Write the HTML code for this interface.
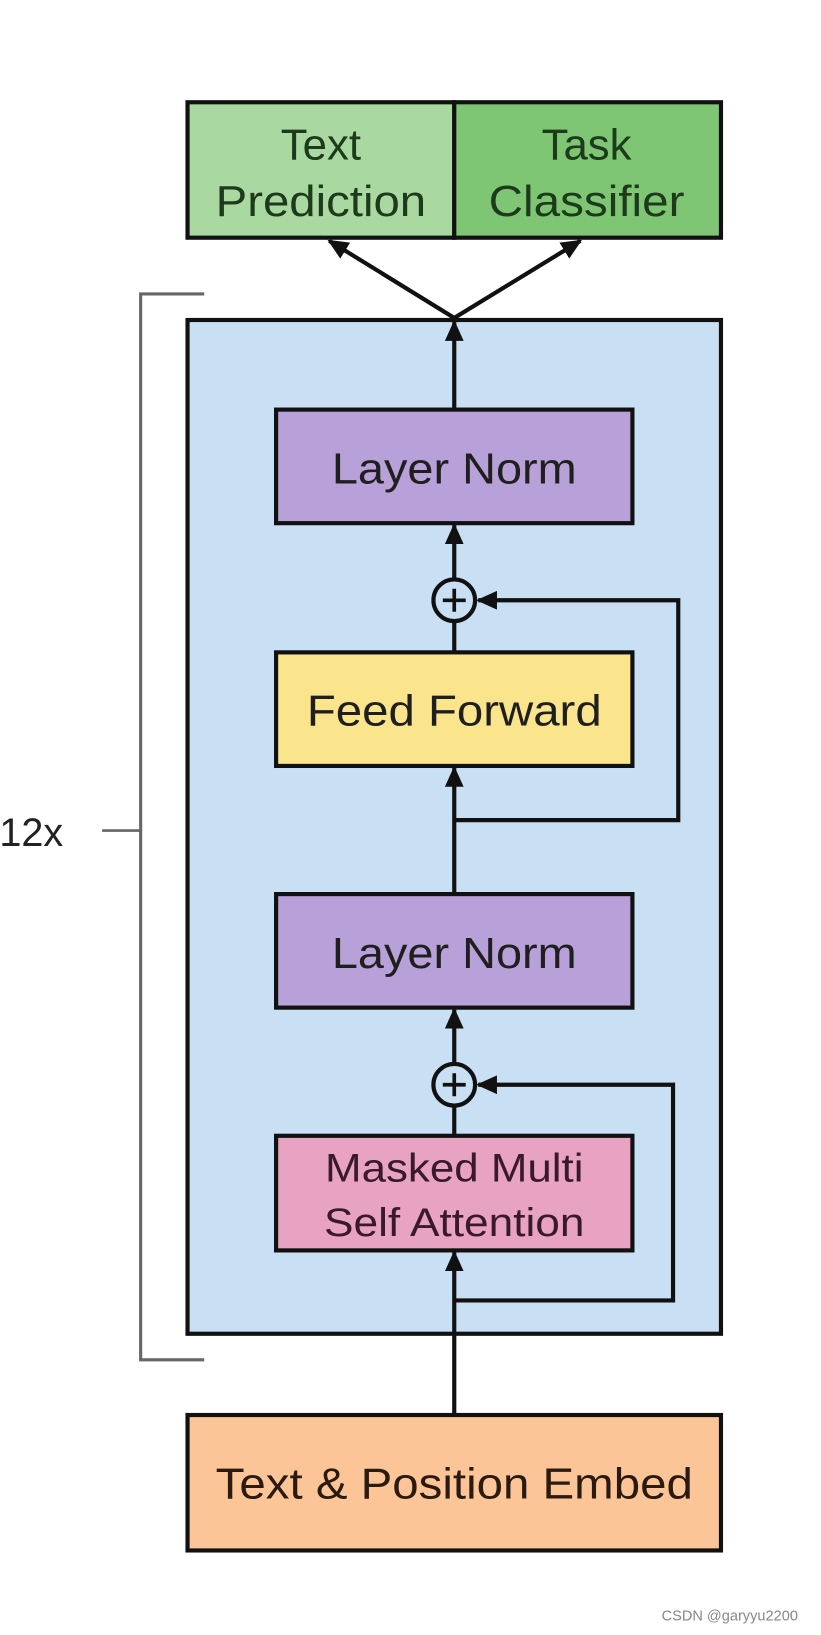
<!DOCTYPE html>
<html><head><meta charset="utf-8"><style>html,body{margin:0;padding:0;background:#fff}svg{display:block}</style></head>
<body>
<svg width="821" height="1635" viewBox="0 0 788 1569" xmlns="http://www.w3.org/2000/svg" font-family="Liberation Sans, sans-serif">
<defs>
<marker id="a" markerWidth="20" markerHeight="18" refX="18" refY="9" orient="auto" markerUnits="userSpaceOnUse" viewBox="0 0 20 18"><path d="M0,0 L20,9 L0,18 z" fill="#111"/></marker>
</defs>
<g stroke="#111" stroke-width="4">
<rect x="180" y="98" width="256" height="130" fill="#a9d9a0"/>
<rect x="436" y="98" width="256" height="130" fill="#7ec673"/>
<polyline points="196,282 135,282 135,1305 196,1305" fill="none" stroke="#666" stroke-width="3"/>
<line x1="98" y1="797" x2="135" y2="797" stroke="#666" stroke-width="2.5"/>
<rect x="180" y="307" width="512" height="973" fill="#c9dff3"/>
<rect x="265" y="393" width="342" height="109" fill="#b8a0d8"/>
<rect x="265" y="626" width="342" height="109" fill="#fbe58c"/>
<rect x="265" y="858" width="342" height="109" fill="#b8a0d8"/>
<rect x="265" y="1090" width="342" height="110" fill="#e8a2c2"/>
<rect x="180" y="1358" width="512" height="130" fill="#fcc598"/>
<g fill="none">
<line x1="436" y1="305" x2="316" y2="231" marker-end="url(#a)"/>
<line x1="436" y1="305" x2="557" y2="231" marker-end="url(#a)"/>
<line x1="436" y1="393" x2="436" y2="309" marker-end="url(#a)"/>
<line x1="436" y1="556" x2="436" y2="504" marker-end="url(#a)"/>
<line x1="436" y1="626" x2="436" y2="597"/>
<line x1="436" y1="858" x2="436" y2="737" marker-end="url(#a)"/>
<polyline points="436,787 651,787 651,576 459,576" marker-end="url(#a)"/>
<line x1="436" y1="1020" x2="436" y2="969" marker-end="url(#a)"/>
<line x1="436" y1="1090" x2="436" y2="1061"/>
<line x1="436" y1="1358" x2="436" y2="1202" marker-end="url(#a)"/>
<polyline points="436,1248 646,1248 646,1041 459,1041" marker-end="url(#a)"/>
<circle cx="436" cy="576" r="20" fill="#c9dff3"/>
<circle cx="436" cy="1041" r="20" fill="#c9dff3"/>
<path d="M425,576 H447 M436,565 V587 M425,1041 H447 M436,1030 V1052" stroke-width="3.5"/>
</g>
</g>
<g fill="#1f1f1f" text-anchor="middle" font-size="42">
<text x="308" y="153" fill="#1d3a1d">Text</text>
<text x="308" y="207" fill="#1d3a1d" textLength="202" lengthAdjust="spacingAndGlyphs">Prediction</text>
<text x="563" y="153" fill="#1d3a1d">Task</text>
<text x="563" y="207" fill="#1d3a1d" textLength="188" lengthAdjust="spacingAndGlyphs">Classifier</text>
<text x="436" y="464" textLength="235" lengthAdjust="spacingAndGlyphs">Layer Norm</text>
<text x="436" y="696" textLength="283" lengthAdjust="spacingAndGlyphs">Feed Forward</text>
<text x="436" y="929" textLength="235" lengthAdjust="spacingAndGlyphs">Layer Norm</text>
<text x="436" y="1134" font-size="38" fill="#3a1a2a" textLength="248" lengthAdjust="spacingAndGlyphs">Masked Multi</text>
<text x="436" y="1186" font-size="38" fill="#3a1a2a" textLength="250" lengthAdjust="spacingAndGlyphs">Self Attention</text>
<text x="436" y="1438" fill="#2a1a10" textLength="458" lengthAdjust="spacingAndGlyphs">Text &amp; Position Embed</text>
<text x="30" y="812" font-size="38" fill="#222">12x</text>
</g>
<text x="635" y="1555" font-size="14" fill="#888">CSDN @garyyu2200</text>
</svg>
</body></html>
